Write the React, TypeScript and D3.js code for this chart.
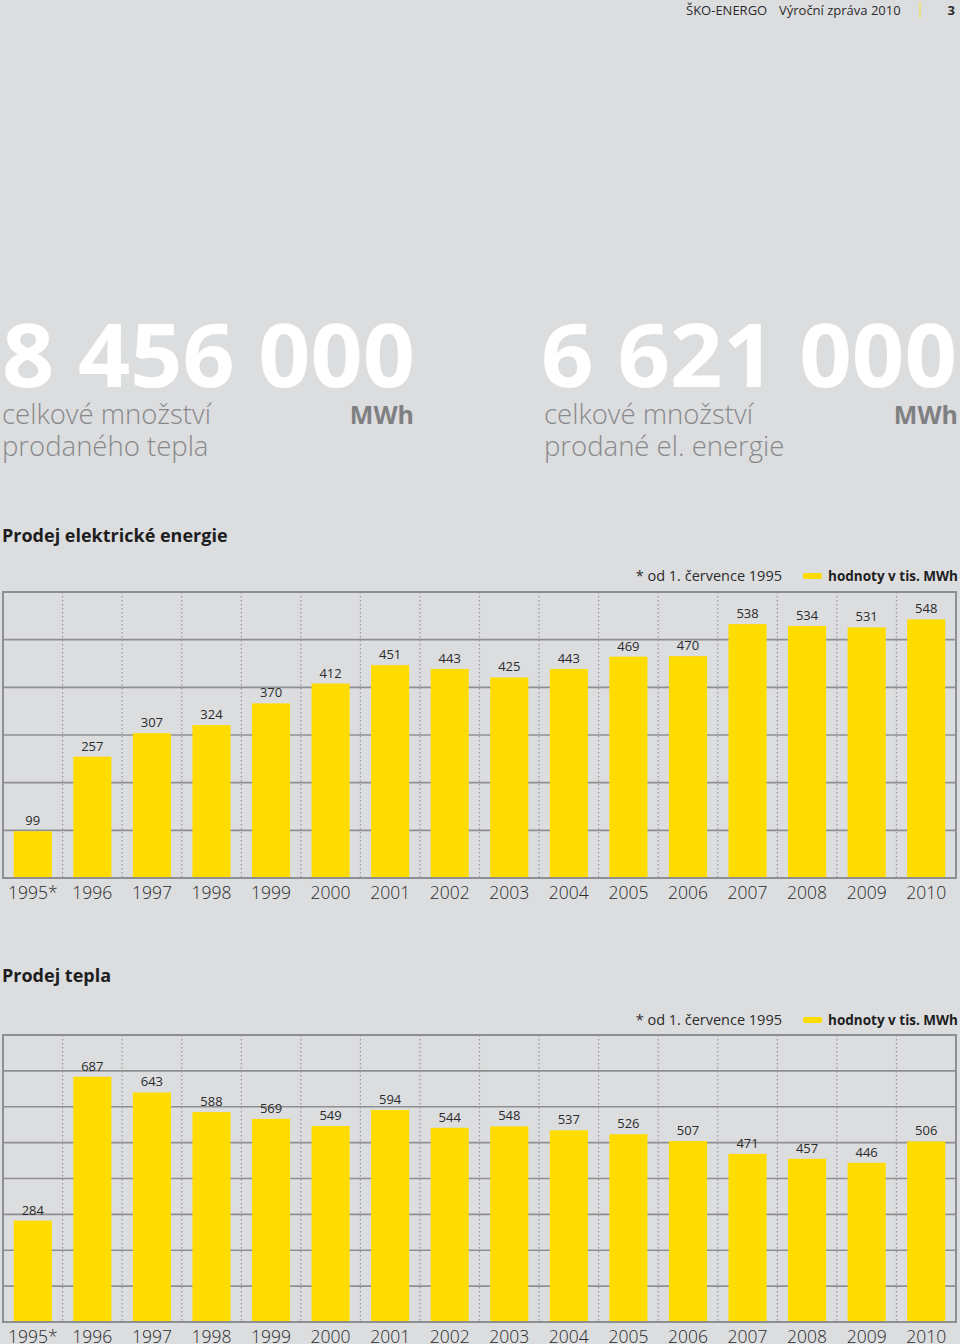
import React from "react";
import * as d3 from "d3";

const years = ["1995*", "1996", "1997", "1998", "1999", "2000", "2001", "2002", "2003", "2004", "2005", "2006", "2007", "2008", "2009", "2010"];
const electricity = [99, 257, 307, 324, 370, 412, 451, 443, 425, 443, 469, 470, 538, 534, 531, 548];
const heat = [284, 687, 643, 588, 569, 549, 594, 544, 548, 537, 526, 507, 471, 457, 446, 506];

const W = 960;
const H = 1344;
const BG = "#dcdddf";
const YELLOW = "#ffdc00";
const GRID = "#8e8f91";
const TEXT = "#2b2b2b";
const SUB = "#88898b";
const FONT = "'Open Sans', 'DejaVu Sans', sans-serif";

type ChartProps = {
  values: number[];
  top: number;
  bottom: number;
  yMax: number;
  bands: number;
  title: string;
  titleY: number;
  legendY: number;
};

function BarChart({ values, top, bottom, yMax, bands, title, titleY, legendY }: ChartProps) {
  const left = 3;
  const right = 956;
  const x = d3.scaleBand<string>().domain(years).range([left, right]).paddingInner(0.36).paddingOuter(0.18);
  const cols = d3.scaleBand<string>().domain(years).range([left, right]);
  const y = d3.scaleLinear().domain([0, yMax]).range([bottom, top]);
  const gridVals = d3.range(1, bands).map((i) => (i * yMax) / bands);

  return (
    <g>
      <text x={2} y={titleY} fontFamily={FONT} fontWeight={700} fontSize={18} fill="#1e1e1e">
        {title}
      </text>
      <text x={782} y={legendY} textAnchor="end" fontFamily={FONT} fontSize={14.5} fill={TEXT}>
        * od 1. července 1995
      </text>
      <rect x={803} y={legendY - 8} width={19} height={6} rx={2} fill={YELLOW} />
      <text
        x={828}
        y={legendY}
        fontFamily={FONT}
        fontWeight={700}
        fontSize={13.5}
        fill="#1e1e1e"
        textLength={130}
        lengthAdjust="spacingAndGlyphs"
      >
        hodnoty v tis. MWh
      </text>
      {gridVals.map((v, i) => (
        <line key={"h" + i} x1={left} x2={right} y1={y(v)} y2={y(v)} stroke={GRID} strokeWidth={1.6} />
      ))}
      {years.slice(1).map((yr) => (
        <line
          key={"v" + yr}
          x1={cols(yr)!}
          x2={cols(yr)!}
          y1={top}
          y2={bottom}
          stroke="#97989a"
          strokeWidth={1.2}
          strokeDasharray="1.5,2.5"
        />
      ))}
      {values.map((v, i) => (
        <rect key={"b" + i} x={x(years[i])!} y={y(v)} width={x.bandwidth()} height={bottom - y(v)} fill={YELLOW} />
      ))}
      {values.map((v, i) => (
        <text
          key={"l" + i}
          x={x(years[i])! + x.bandwidth() / 2}
          y={y(v) - 6}
          textAnchor="middle"
          fontFamily={FONT}
          fontSize={13}
          fill={TEXT}
        >
          {v}
        </text>
      ))}
      <rect x={left} y={top} width={right - left} height={bottom - top} fill="none" stroke={GRID} strokeWidth={2} />
      {years.map((yr) => (
        <text
          key={"t" + yr}
          x={cols(yr)! + cols.bandwidth() / 2}
          y={bottom + 21}
          textAnchor="middle"
          fontFamily={FONT}
          fontWeight={300}
          fontSize={17.5}
          fill={TEXT}
        >
          {yr}
        </text>
      ))}
    </g>
  );
}

export default function App() {
  return (
    <svg
      width={W}
      height={H}
      viewBox={`0 0 ${W} ${H}`}
      style={{ position: "absolute", left: 0, top: 0, display: "block" }}
    >
      <rect width={W} height={H} fill={BG} />
      {/* header */}
      <text x={686} y={15} fontFamily={FONT} fontSize={13} fill={TEXT}>
        ŠKO-ENERGO
      </text>
      <text x={779} y={15} fontFamily={FONT} fontSize={13} fill={TEXT}>
        Výroční zpráva 2010
      </text>
      <line x1={920} x2={920} y1={2} y2={18} stroke="#f1e06a" strokeWidth={1.5} />
      <text x={955} y={15} textAnchor="end" fontFamily={FONT} fontWeight={700} fontSize={13} fill={TEXT}>
        3
      </text>

      {/* big figures */}
      <text
        x={2}
        y={387}
        fontFamily={FONT}
        fontWeight={700}
        fontSize={88}
        fill="#ffffff"
        textLength={413}
        lengthAdjust="spacingAndGlyphs"
      >
        8 456 000
      </text>
      <text x={2} y={424} fontFamily={FONT} fontWeight={300} fontSize={27.5} fill={SUB}>
        celkové množství
      </text>
      <text x={2} y={456} fontFamily={FONT} fontWeight={300} fontSize={27.5} fill={SUB}>
        prodaného tepla
      </text>
      <text x={414} y={424} textAnchor="end" fontFamily={FONT} fontWeight={700} fontSize={25} fill="#7f8082">
        MWh
      </text>

      <text
        x={541}
        y={387}
        fontFamily={FONT}
        fontWeight={700}
        fontSize={88}
        fill="#ffffff"
        textLength={416}
        lengthAdjust="spacingAndGlyphs"
      >
        6 621 000
      </text>
      <text x={544} y={424} fontFamily={FONT} fontWeight={300} fontSize={27.5} fill={SUB}>
        celkové množství
      </text>
      <text x={544} y={456} fontFamily={FONT} fontWeight={300} fontSize={27.5} fill={SUB}>
        prodané el. energie
      </text>
      <text x={958} y={424} textAnchor="end" fontFamily={FONT} fontWeight={700} fontSize={25} fill="#7f8082">
        MWh
      </text>

      <BarChart
        values={electricity}
        top={592}
        bottom={878}
        yMax={606}
        bands={6}
        title="Prodej elektrické energie"
        titleY={542}
        legendY={581}
      />
      <BarChart
        values={heat}
        top={1035}
        bottom={1322}
        yMax={804}
        bands={8}
        title="Prodej tepla"
        titleY={982}
        legendY={1025}
      />
    </svg>
  );
}
